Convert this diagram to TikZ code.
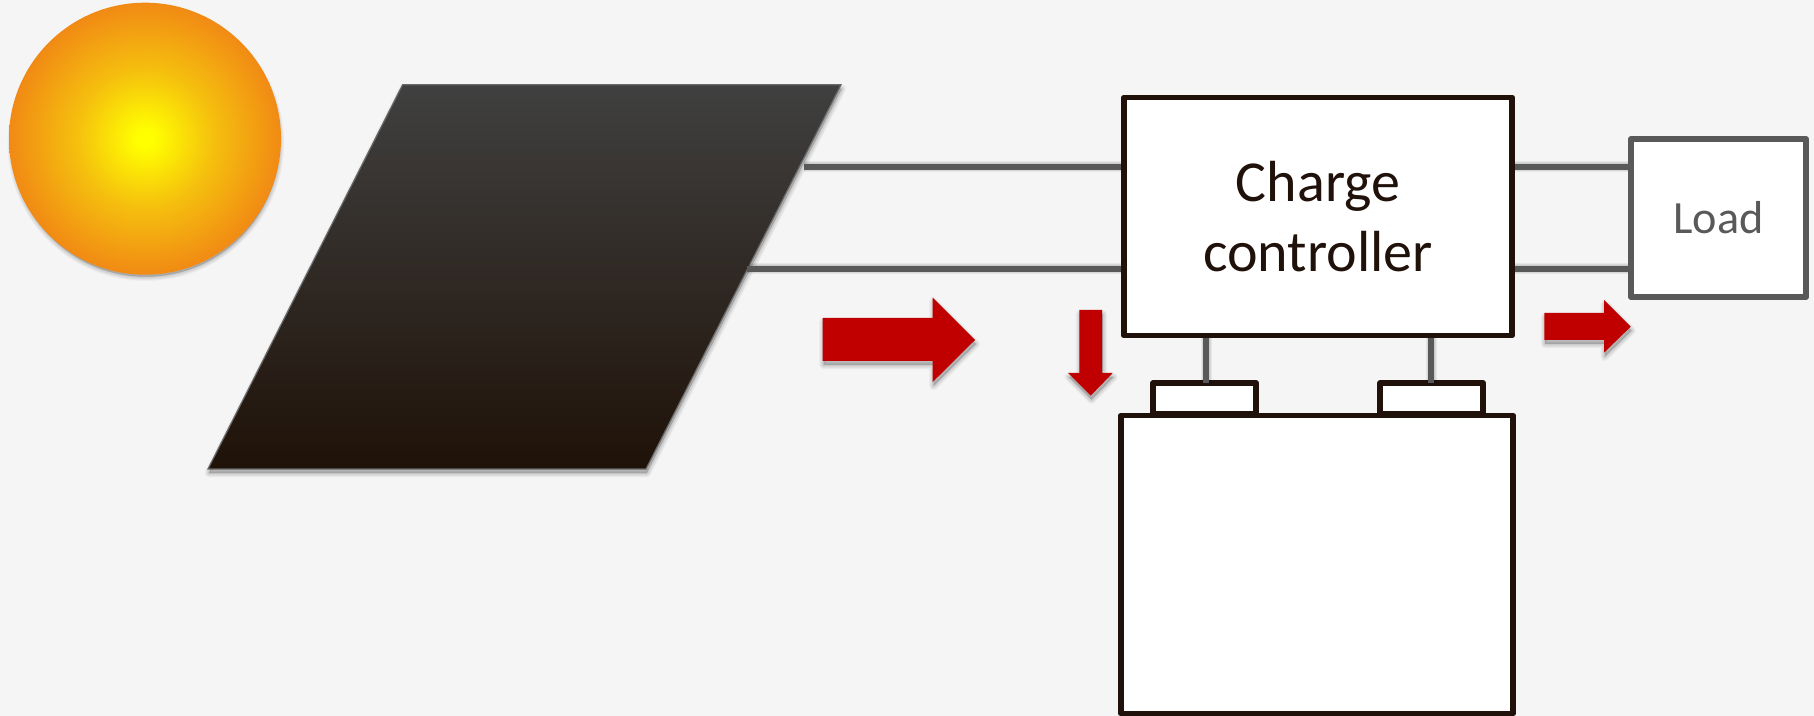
\documentclass[tikz,border=0pt]{standalone}
\usepackage{fontspec}
\setmainfont{Carlito}
\definecolor{bgc}{HTML}{F5F5F5}
\definecolor{wirec}{HTML}{595959}
\definecolor{darkc}{HTML}{20120A}
\definecolor{redc}{HTML}{C00000}
\definecolor{panelt}{HTML}{404040}
\definecolor{panelb}{HTML}{1F1208}
\definecolor{edgec}{HTML}{686868}
\definecolor{sunA}{HTML}{FFFF00}
\definecolor{sunB}{HTML}{F5C00E}
\definecolor{sunC}{HTML}{F18A14}
\pgfdeclareradialshading{sunshade}{\pgfpointorigin}{color(0bp)=(sunA);color(1.5bp)=(sunA);color(12.5bp)=(sunB);color(25bp)=(sunC);color(50bp)=(sunC)}
\newcommand{\softfill}[1]{%
  \foreach \w in {0.2,0.8,1.4,2,2.6,3.2,3.8,4.4}{\fill[black,opacity=0.025,draw=black,line width=\w pt,line join=round,shift={(0.4pt,-2pt)}] #1;}}
\newcommand{\softwire}[1]{%
  \foreach \w in {2.5,3.5,4.5,5.5}{\draw[black,opacity=0.06,line width=\w pt,shift={(0.3pt,-2pt)}] #1;}}
\tikzset{
  wire/.style={draw=wirec,line width=2.9pt},
  boxdark/.style={draw=darkc,fill=white,line width=2.95pt,line join=round,inner sep=0pt,text=darkc},
  boxgrey/.style={draw=wirec,fill=white,line width=2.95pt,line join=round,inner sep=0pt,text=wirec},
  flow/.style={fill=redc,draw=none}
}
\begin{document}
\begin{tikzpicture}[x=0.5pt,y=-0.5pt]
\useasboundingbox (0,0) rectangle (1814,716);
\fill[bgc] (0,0) rectangle (1814,716);
% sun
\softfill{(145,138.7) circle (134)}
\path[shading=sunshade] (145,138.7) circle (136);
% panel
\softfill{(402.6,84.7) -- (841,84.7) -- (646,469) -- (208,469) -- cycle}
\path[top color=panelt,bottom color=panelb,draw=edgec,line width=0.6pt,line join=miter]
  (402.6,84.7) -- (841,84.7) -- (646,469) -- (208,469) -- cycle;
% boxes
\node[boxdark,minimum width=194pt,minimum height=119pt,align=center,font=\fontsize{29}{35}\selectfont] (ctrl) at (1318,216.5) {Charge\\controller};
\node[boxgrey,minimum width=87.5pt,minimum height=79pt,font=\fontsize{23.1}{28}\selectfont] (load) at (1718.5,218) {Load};
\node[boxdark,minimum width=196pt,minimum height=149pt] (batt) at (1317,564.5) {};
\node[boxdark,minimum width=51.5pt,minimum height=15.5pt] (termL) at (1204.6,398.5) {};
\node[boxdark,minimum width=51.5pt,minimum height=15.5pt] (termR) at (1431.6,398.5) {};
% connector free ends
\coordinate (pA) at (804,166.7);
\coordinate (pB) at (747,269);
\coordinate (vL) at (1206,383);
\coordinate (vR) at (1431,383);
\coordinate (lA) at (1560,166.7);
\coordinate (lB) at (1560,269);
% connector shadows
\softwire{(pA) -- (pA -| ctrl.west)}
\softwire{(pB) -- (pB -| ctrl.west)}
\softwire{(lA -| ctrl.east) -- (lA -| load.west)}
\softwire{(lB -| ctrl.east) -- (lB -| load.west)}
\softwire{(vL |- ctrl.south) -- (vL)}
\softwire{(vR |- ctrl.south) -- (vR)}
% connectors
\draw[wire] (pA) -- (pA -| ctrl.west);
\draw[wire] (pB) -- (pB -| ctrl.west);
\draw[wire] (lA -| ctrl.east) -- (lA -| load.west);
\draw[wire] (lB -| ctrl.east) -- (lB -| load.west);
\draw[wire] (vL |- ctrl.south) -- (vL);
\draw[wire] (vR |- ctrl.south) -- (vR);
% red arrows
\softfill{(822.7,318) -- (932.7,318) -- (932.7,297.7) -- (975,340) -- (932.7,382) -- (932.7,361) -- (822.7,361) -- cycle}
\fill[flow] (822.7,318) -- (932.7,318) -- (932.7,297.7) -- (975,340) -- (932.7,382) -- (932.7,361) -- (822.7,361) -- cycle;
\softfill{(1079.3,310) -- (1102,310) -- (1102,373) -- (1112.7,373) -- (1090.7,395.7) -- (1068,373) -- (1079.3,373) -- cycle}
\fill[flow] (1079.3,310) -- (1102,310) -- (1102,373) -- (1112.7,373) -- (1090.7,395.7) -- (1068,373) -- (1079.3,373) -- cycle;
\softfill{(1544.3,313) -- (1604,313) -- (1604,300) -- (1630.7,326.7) -- (1604,352.7) -- (1604,340) -- (1544.3,340) -- cycle}
\fill[flow] (1544.3,313) -- (1604,313) -- (1604,300) -- (1630.7,326.7) -- (1604,352.7) -- (1604,340) -- (1544.3,340) -- cycle;
\end{tikzpicture}
\end{document}
